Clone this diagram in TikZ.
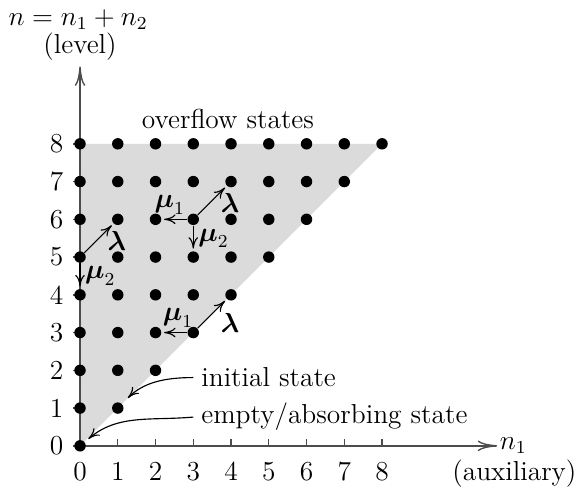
\documentclass[tikz,border=0pt]{standalone}
\usepackage{amsmath}
\usetikzlibrary{arrows.meta}
\tikzset{
    % states of the lattice
    state/.style={
        circle,
        fill=black,
        inner sep=0pt,
        minimum size=5pt
    },
    % axes
    axis/.style={
        draw=black!70,
        line width=0.6pt
    },
    axisarrow/.style={
        axis,
        -{To[length=8.5pt,width=4.6pt]}
    },
    % transition arrows
    trans/.style={
        ->,
        >={To[length=5pt,width=4.2pt]},
        line width=0.5pt,
        shorten >=1pt
    },
    note/.style={
        ->,
        >={To[length=5pt,width=4.2pt]},
        line width=0.5pt
    },
    rate/.style={inner sep=2pt}
}
\begin{document}
\begin{tikzpicture}[x=0.58cm, y=0.58cm, font=\fontsize{12}{14}\selectfont]
    \useasboundingbox (-2.12,-1.19) rectangle (13.27,11.81);

    % shaded triangle
    \fill[black!14] (0,0) -- (0,8) -- (8,8) -- cycle;

    % axes
    \coordinate (origin) at (0,0);
    \coordinate (xend) at (11.05,0);
    \coordinate (yend) at (0,10.05);
    \draw[axisarrow] (origin) -- (xend);
    \draw[axisarrow] (origin) -- (yend);
    \foreach \i in {1,...,8}
        \draw[axis] (\i,0) -- (\i,0.18);
    \foreach \i in {0,...,8}
        \node[anchor=base] (xl-\i) at (\i,-0.93) {\i};
    \foreach \j in {0,...,8} {
        \draw[axis] (0,\j) -- (-0.18,\j);
        \node (yl-\j) at (-0.62,\j) {\j};
    }
    \node[anchor=west, inner sep=1pt] (n1lbl) at (xend) {$n_1$};
    \node[anchor=base east, inner sep=1pt] (auxlbl) at (13.22,-0.93) {(auxiliary)};
    \node (lvllbl) at (0,10.58) {(level)};
    \node (nlbl) at (-0.05,11.28) {$n=n_1+n_2$};

    % states
    \foreach \j in {0,...,8}
        \foreach \i in {0,...,\j}
            \node[state] (st-\i-\j) at (\i,\j) {};

    \node[anchor=base] (ovfl) at (3.92,8.4) {overflow states};

    % transitions
    \draw[trans] (st-0-5) -- node[rate, at end, anchor=north, xshift=1.5pt, yshift=-1pt]{$\boldsymbol{\lambda}$} (st-1-6);
    \draw[trans] (st-0-5) -- node[rate, right]{$\boldsymbol{\mu}_2$} (st-0-4);
    \draw[trans] (st-3-6) -- node[rate, above, xshift=-2pt]{$\boldsymbol{\mu}_1$} (st-2-6);
    \draw[trans] (st-3-6) -- node[rate, right]{$\boldsymbol{\mu}_2$} (st-3-5);
    \draw[trans] (st-3-6) -- node[rate, at end, anchor=north, xshift=1.5pt, yshift=-1pt]{$\boldsymbol{\lambda}$} (st-4-7);
    \draw[trans] (st-3-3) -- node[rate, above, xshift=1.6pt]{$\boldsymbol{\mu}_1$} (st-2-3);
    \draw[trans] (st-3-3) -- node[rate, at end, anchor=north, xshift=1.5pt, yshift=-4pt]{$\boldsymbol{\lambda}$} (st-4-4);

    % annotations
    \node[anchor=base west] (initlbl) at (3.0,1.56) {initial state};
    \node[anchor=base west] (emptylbl) at (3.0,0.58) {empty/absorbing state};
    \draw[note, shorten >=3.5pt] (initlbl.west) to[out=180, in=45] (st-1-1);
    \draw[note, shorten >=2pt] (emptylbl.west) to[out=185, in=40] (st-0-0);
\end{tikzpicture}
\end{document}
